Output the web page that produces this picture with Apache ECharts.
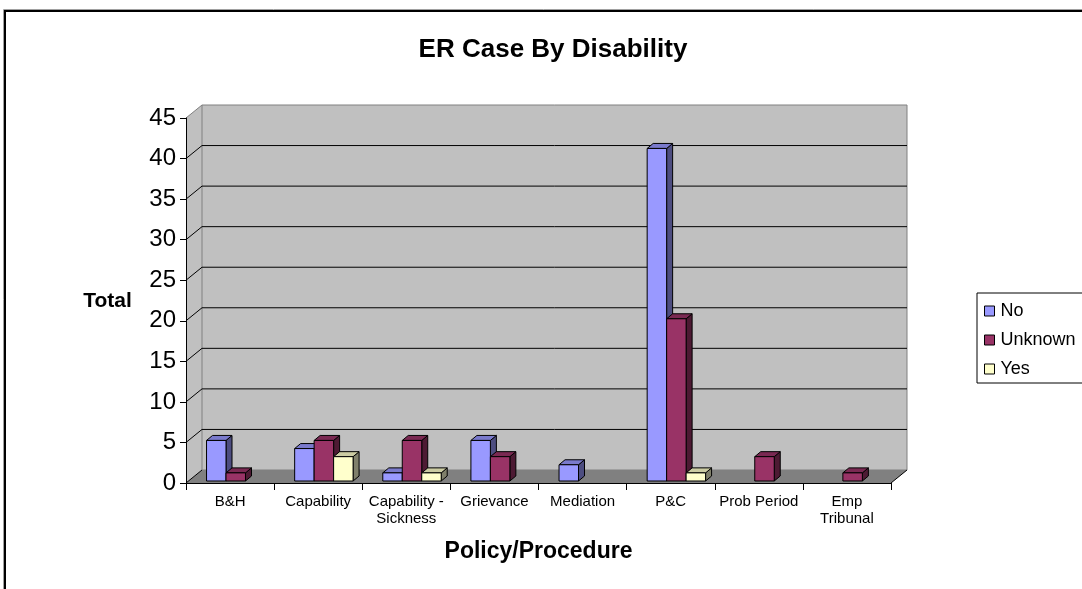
<!DOCTYPE html>
<html>
<head>
<meta charset="utf-8">
<title>ER Case By Disability</title>
<script src="https://cdn.jsdelivr.net/npm/echarts@6/dist/echarts.min.js"></script>
<style>
  html, body { margin: 0; padding: 0; background: #fff; }
  #chart { width: 1082px; height: 589px; }
</style>
</head>
<body>
<div id="chart"></div>
<script>
// Cases per policy/procedure, split by disability status
const categories = ['B&H', 'Capability', 'Capability -\nSickness', 'Grievance', 'Mediation', 'P&C', 'Prob Period', 'Emp\nTribunal'];
const seriesNames = ['No', 'Unknown', 'Yes'];
const noValues = [5, 4, 1, 5, 2, 41, 0, 0];
const unknownValues = [1, 5, 5, 3, 0, 20, 3, 1];
const yesValues = [0, 3, 1, 0, 0, 1, 0, 0];
const yTicks = [0, 5, 10, 15, 20, 25, 30, 35, 40, 45];

const FONT = '"Liberation Sans", Arial, Helvetica, sans-serif';

// face colours: front, top, right side
const faces = [
  { front: '#9999FF', top: '#7A7ACC', side: '#4D4D80' },
  { front: '#993366', top: '#7A2952', side: '#4D1A33' },
  { front: '#FFFFCC', top: '#CCCCA3', side: '#80806B' }
];

// depth of the walls and of each column (pseudo 3D projection)
const WALL_DX = 16, WALL_DY = -13;
const BAR_DX = 6, BAR_DY = -5;
const BAR_SHIFT_Y = -2;

const chart = echarts.init(document.getElementById('chart'), null, { renderer: 'canvas' });

function renderWalls(params, api) {
  const cs = params.coordSys;
  const L = cs.x, R = cs.x + cs.width;
  const y0 = api.coord([0, yTicks[0]])[1];
  const yMax = api.coord([0, yTicks[yTicks.length - 1]])[1];
  const children = [];
  // left side wall
  children.push({
    type: 'polygon',
    shape: { points: [[L, y0], [L + WALL_DX, y0 + WALL_DY], [L + WALL_DX, yMax + WALL_DY], [L, yMax]] },
    style: { fill: '#C0C0C0', stroke: null }
  });
  // back wall
  children.push({
    type: 'rect',
    shape: { x: L + WALL_DX, y: yMax + WALL_DY, width: R - L, height: y0 - yMax },
    style: { fill: '#C0C0C0', stroke: '#808080', lineWidth: 1 }
  });
  // floor
  children.push({
    type: 'polygon',
    shape: { points: [[L, y0], [R, y0], [R + WALL_DX, y0 + WALL_DY], [L + WALL_DX, y0 + WALL_DY]] },
    style: { fill: '#808080', stroke: null }
  });
  // gridlines running across the side wall and the back wall
  yTicks.slice(1, -1).forEach(function (t) {
    const y = api.coord([0, t])[1];
    children.push({
      type: 'polyline',
      shape: { points: [[L, y], [L + WALL_DX, y + WALL_DY], [R + WALL_DX, y + WALL_DY]] },
      style: { stroke: '#000', lineWidth: 1, fill: null }
    });
  });
  // top edge of the side wall
  children.push({
    type: 'line',
    shape: { x1: L, y1: yMax, x2: L + WALL_DX, y2: yMax + WALL_DY },
    style: { stroke: '#808080', lineWidth: 1 }
  });
  // floor edges going into depth
  children.push({
    type: 'line',
    shape: { x1: L, y1: y0, x2: L + WALL_DX, y2: y0 + WALL_DY },
    style: { stroke: '#000', lineWidth: 1 }
  });
  children.push({
    type: 'line',
    shape: { x1: R, y1: y0, x2: R + WALL_DX, y2: y0 + WALL_DY },
    style: { stroke: '#000', lineWidth: 1 }
  });
  return { type: 'group', children: children };
}

function makeBarRenderer(s) {
  return function (params, api) {
    const ci = api.value(0);
    const v = api.value(1);
    if (!v) return null;
    const base = api.coord([ci, 0]);
    const top = api.coord([ci, v]);
    const W = api.size([1, 0])[0];
    const bw = W * 0.221;
    const x0 = base[0] - W / 2 + W * 0.233 + s * bw;
    const x1 = x0 + bw;
    const yT = top[1] + BAR_SHIFT_Y;
    const yB = base[1] + BAR_SHIFT_Y;
    const f = faces[s];
    const edge = { stroke: '#000', lineWidth: 1, lineJoin: 'miter' };
    return {
      type: 'group',
      children: [
        {
          type: 'polygon',
          shape: { points: [[x1, yT], [x1 + BAR_DX, yT + BAR_DY], [x1 + BAR_DX, yB + BAR_DY], [x1, yB]] },
          style: Object.assign({ fill: f.side }, edge)
        },
        {
          type: 'polygon',
          shape: { points: [[x0, yT], [x0 + BAR_DX, yT + BAR_DY], [x1 + BAR_DX, yT + BAR_DY], [x1, yT]] },
          style: Object.assign({ fill: f.top }, edge)
        },
        {
          type: 'rect',
          shape: { x: x0, y: yT, width: bw, height: yB - yT },
          style: Object.assign({ fill: f.front }, edge)
        }
      ]
    };
  };
}

const valueSets = [noValues, unknownValues, yesValues];

const barSeries = seriesNames.map(function (name, s) {
  return {
    name: name,
    type: 'custom',
    clip: false,
    z: 3,
    itemStyle: { color: faces[s].front },
    renderItem: makeBarRenderer(s),
    encode: { x: 0, y: 1 },
    data: valueSets[s].map(function (v, i) { return [i, v]; })
  };
});

const option = {
  backgroundColor: '#fff',
  animation: false,
  title: {
    text: 'ER Case By Disability',
    left: 553,
    textAlign: 'center',
    top: 37,
    padding: 0,
    textStyle: { fontFamily: FONT, fontSize: 26, fontWeight: 'bold', color: '#000' }
  },
  legend: {
    orient: 'vertical',
    left: 977,
    top: 293,
    padding: [9, 30, 5, 7],
    itemGap: 11,
    itemWidth: 10,
    itemHeight: 10,
    icon: 'rect',
    borderColor: '#000',
    borderWidth: 1,
    backgroundColor: '#fff',
    itemStyle: { borderColor: '#000', borderWidth: 1 },
    textStyle: { fontFamily: FONT, fontSize: 18, color: '#000', padding: [0, 0, 0, 1] },
    data: seriesNames
  },
  grid: { left: 186, right: 191, top: 118, bottom: 106, containLabel: false },
  xAxis: {
    type: 'category',
    data: categories,
    z: 5,
    axisLine: { lineStyle: { color: '#000', width: 1 } },
    axisTick: { show: true, length: 7, lineStyle: { color: '#000' } },
    axisLabel: { fontFamily: FONT, fontSize: 15, color: '#000', margin: 10, lineHeight: 17, interval: 0 },
    splitLine: { show: false }
  },
  yAxis: {
    type: 'value',
    min: 0,
    max: 45,
    interval: 5,
    z: 5,
    axisLine: { show: true, lineStyle: { color: '#000', width: 1 } },
    axisTick: { show: true, length: 6, lineStyle: { color: '#000' } },
    axisLabel: { fontFamily: FONT, fontSize: 24, color: '#000', margin: 10 },
    splitLine: { show: false }
  },
  graphic: [
    { type: 'rect', shape: { x: 3.5, y: 9.5, width: 1200, height: 700 }, style: { fill: null, stroke: '#A0A0A0', lineWidth: 1 }, silent: true },
    { type: 'rect', shape: { x: 5, y: 11, width: 1200, height: 700 }, style: { fill: null, stroke: '#000', lineWidth: 2 }, silent: true },
    { type: 'text', x: 107.5, y: 301, style: { text: 'Total', fontFamily: FONT, fontSize: 21, fontWeight: 'bold', fill: '#000', textAlign: 'center', textVerticalAlign: 'middle' } },
    { type: 'text', x: 538.5, y: 552, style: { text: 'Policy/Procedure', fontFamily: FONT, fontSize: 23, fontWeight: 'bold', fill: '#000', textAlign: 'center', textVerticalAlign: 'middle' } }
  ],
  series: [
    {
      type: 'custom',
      name: 'walls',
      clip: false,
      z: 1,
      silent: true,
      renderItem: renderWalls,
      encode: { x: 0, y: 1 },
      data: [[0, 0]]
    }
  ].concat(barSeries)
};

chart.setOption(option);
</script>
</body>
</html>
